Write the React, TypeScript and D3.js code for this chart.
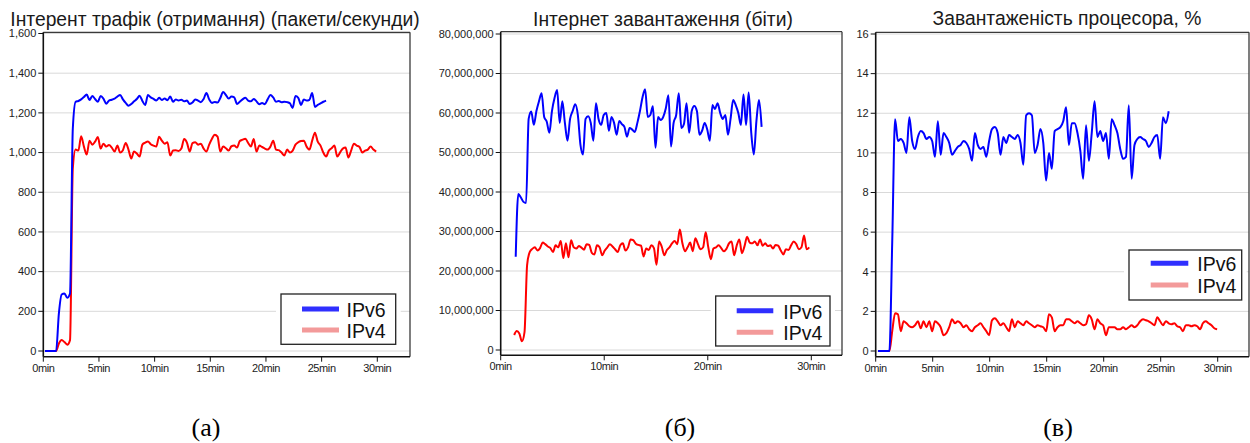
import React from "react";
import * as d3 from "d3";

// ---------- shared labels ----------
const seriesNames = ["IPv6", "IPv4"];
const panelTitles = [
  "Інтерент трафік (отримання) (пакети/секунди)",
  "Інтернет завантаження (біти)",
  "Завантаженість процесора, %",
];
const panelCaptions = ["(а)", "(б)", "(в)"];
const minuteTicksFine = [0, 5, 10, 15, 20, 25, 30];
const minuteTicksCoarse = [0, 10, 20, 30];
const packetTicks = [0, 200, 400, 600, 800, 1000, 1200, 1400, 1600];
const bitTicks = [0, 10e6, 20e6, 30e6, 40e6, 50e6, 60e6, 70e6, 80e6];
const cpuTicks = [0, 2, 4, 6, 8, 10, 12, 14, 16];

// sampling: minutes between samples
const sampleStep = 0.25;

// ---------- panel (a): packets / second ----------
const packetsIpv6Start = 0.15;
const packetsIpv6 = [
  0, 0, 0, 0, 0, 190, 285, 290, 268, 290,
  1120, 1256, 1260, 1268, 1280, 1292, 1265, 1285, 1270, 1256,
  1285, 1272, 1246, 1262, 1266, 1272, 1282, 1290, 1268, 1250,
  1236, 1245, 1258, 1270, 1286, 1260, 1240, 1290, 1278, 1270,
  1262, 1276, 1265, 1272, 1264, 1282, 1256, 1268, 1262, 1266,
  1258, 1262, 1245, 1252, 1268, 1262, 1254, 1270, 1300, 1268,
  1250, 1255, 1252, 1275, 1305, 1290, 1272, 1282, 1278, 1245,
  1256, 1268, 1276, 1262, 1258, 1270, 1258, 1244, 1250, 1244,
  1268, 1290, 1278, 1256, 1260, 1254, 1256, 1254, 1248, 1225,
  1285, 1276, 1240, 1268, 1262, 1266, 1300, 1230, 1240, 1248,
  1256, 1262,
];
const packetsIpv4Start = 0.15;
const packetsIpv4 = [
  0, 0, 0, 0, 0, 38, 55, 45, 32, 55,
  920, 1015, 1010, 1082, 1030, 990, 1060, 1040, 1055, 1078,
  1020, 1045, 1030, 1038, 1025, 1005, 1035, 1000, 1012, 1048,
  1015, 970, 1005, 995, 980, 1040, 1050, 1056, 1042, 1035,
  1030, 1080, 1060, 1045, 1052, 985, 1010, 1012, 1008, 1020,
  1068, 1050, 1005, 1048, 1052, 1040, 1045, 1020, 1005, 1040,
  1070, 1090, 1080, 1005, 1030, 1022, 1010, 1032, 1035, 1025,
  1058, 1065, 1070, 1048, 1030, 1068, 1005, 1035, 1028, 1020,
  1015, 1030, 1060, 1015, 1012, 1000, 985, 1015, 1000, 1010,
  1040, 1052, 1058, 1060, 1030, 1015, 1060, 1100, 1055, 1035,
  1000, 980, 1010, 1022, 1035, 980, 1000, 1020, 1025, 975,
  1010, 1045, 1035, 1028, 1000, 1010, 1015, 1030, 1015, 1005,
];

// ---------- panel (б): bits (millions) ----------
const bitsIpv6Start = 1.45;
const bitsIpv6M = [
  23.6, 39.5, 38.6, 37.5, 37.2, 58.5, 60.4, 57.0, 60.5, 63.0,
  65.0, 59.0, 57.8, 55.0, 60.5, 63.8, 65.8, 57.5, 63.0, 57.5,
  53.0, 58.5, 60.5, 62.2, 59.5, 52.0, 49.5, 58.5, 59.2, 57.5,
  53.0, 62.5, 58.5, 57.0, 59.5, 60.0, 55.5, 59.0, 57.5, 54.5,
  58.0, 57.2, 56.5, 54.0, 56.2, 55.8, 55.2, 57.5, 60.5, 64.0,
  66.0, 59.0, 59.5, 61.7, 51.2, 59.0, 58.2, 59.0, 61.2, 64.5,
  51.5, 57.5, 59.5, 65.0, 56.2, 57.2, 62.5, 55.0, 60.5, 61.8,
  60.5, 54.5, 55.5, 57.5, 55.8, 53.0, 62.0, 61.0, 62.5, 60.0,
  58.5, 59.5, 54.5, 58.5, 63.3, 62.0, 60.0, 57.0, 64.7, 57.0,
  65.2, 55.0, 49.5, 58.0, 63.3, 56.5,
];
const bitsIpv4Start = 1.3;
const bitsIpv4M = [
  3.8, 4.8, 4.2, 2.2, 4.5, 21.5, 24.8, 25.6, 26.0, 25.2,
  25.8, 27.2, 26.8, 26.2, 25.8, 24.8, 26.5, 26.0, 27.6, 23.3,
  27.0, 23.5, 27.8, 26.0, 25.7, 26.3, 25.9, 25.4, 26.8, 26.6,
  24.6, 24.2, 26.5, 26.0, 24.0, 25.2, 26.0, 26.8, 26.2, 25.5,
  24.8, 26.5, 27.0, 25.2, 26.0, 28.0, 27.8, 26.9, 26.6, 26.4,
  23.7, 25.7, 25.3, 26.5, 25.8, 21.6, 27.5, 26.2, 24.0, 25.3,
  26.0, 27.0, 27.6, 26.8, 30.5, 27.0, 25.0, 26.0, 27.2, 25.0,
  28.3, 26.8, 25.5, 26.0, 29.8, 26.0, 23.0, 25.7, 26.0, 26.5,
  25.8, 25.0, 25.6, 27.0, 27.5, 24.0, 26.5, 28.0, 24.5, 26.3,
  28.7, 27.2, 27.0, 27.5, 26.5, 28.0, 26.4, 27.0, 26.3, 26.5,
  25.7, 26.6, 26.4, 25.2, 24.2, 25.5, 25.3, 26.5, 27.5, 26.8,
  25.5, 26.0, 29.0, 25.5, 26.0,
];

// ---------- panel (в): CPU % ----------
const cpuIpv6Start = 0.2;
const cpuIpv6 = [
  0, 0, 0, 0, 0, 5.5, 11.7, 10.6, 10.7, 10.5,
  10.0, 11.8, 10.6, 10.2, 10.8, 11.1, 11.0, 10.7, 10.8, 10.6,
  9.8, 11.6, 9.9, 11.0, 10.8, 10.5, 9.9, 10.1, 10.3, 10.4,
  10.6, 10.5, 10.2, 9.6, 11.0, 10.4, 10.2, 10.3, 9.8, 10.6,
  11.2, 11.3, 11.0, 9.9, 10.8, 10.5, 10.9, 10.8, 10.7, 10.9,
  10.5, 9.4, 11.9, 12.0, 11.9, 10.0, 10.4, 11.2, 10.5, 8.6,
  10.0, 9.2, 11.1, 11.2, 11.3, 11.6, 12.3, 10.4, 11.5, 11.5,
  11.0, 10.1, 8.7, 11.4, 9.6, 11.0, 12.6, 10.8, 11.1, 10.6,
  11.0, 9.7, 11.7, 11.4, 11.0, 10.2, 9.7, 9.8, 12.4, 8.7,
  10.4, 10.7, 10.8, 10.7, 10.6, 10.3, 10.5, 10.8, 10.9, 9.7,
  11.8, 11.5, 12.1,
];
const cpuIpv4Start = 0.2;
const cpuIpv4 = [
  0, 0, 0, 0, 0, 1.0, 1.9, 1.85, 1.0, 1.5,
  1.4, 1.25, 1.2, 1.3, 1.5, 1.15, 1.5, 1.2, 1.5, 1.0,
  1.5, 1.4, 1.2, 0.8, 0.9, 1.2, 1.6, 1.4, 1.5, 1.4,
  1.2, 1.3, 1.1, 1.0, 1.2, 1.3, 1.4, 1.2, 1.0, 0.8,
  1.55, 1.65, 1.5, 1.3, 1.4, 1.2, 1.0, 1.6, 1.2, 1.5,
  1.4, 1.3, 1.5, 1.4, 1.3, 1.2, 1.3, 1.25, 1.2, 1.0,
  1.85, 1.7, 1.0, 1.2, 1.3, 1.3, 1.6, 1.6, 1.5, 1.4,
  1.5, 1.4, 1.3, 1.35, 1.8, 1.6, 1.1, 1.6, 1.4, 1.3,
  0.8, 1.2, 1.2, 1.2, 1.1, 1.1, 1.2, 1.1, 1.2, 1.3,
  1.2, 1.3, 1.5, 1.6, 1.55, 1.5, 1.4, 1.3, 1.7, 1.5,
  1.3, 1.5, 1.4, 1.35, 1.4, 1.25, 1.2, 1.0, 1.3, 1.3,
  1.25, 1.3, 1.25, 1.1, 1.4, 1.5, 1.4, 1.3, 1.15, 1.1,
];

// ---------- styles / layout ----------
const lineColors = ["#0000ff", "#ff0000"];
const legendColors = ["#2f2fff", "#f39a9a"];
const FONT = "'Liberation Sans', Arial, sans-serif";

type Pt = { t: number; v: number };
const toPoints = (start: number, values: number[], scale = 1): Pt[] =>
  values.map((v, i) => ({ t: start + i * sampleStep, v: v * scale }));

type PanelCfg = {
  title: string;
  titleX: number;
  titleY: number;
  left: number;
  right: number;
  top: number;
  axisY: number;
  x30: number;
  y0: number;
  yTop: number;
  yMax: number;
  yTicks: number[];
  xTicks: number[];
  series: Pt[][];
  legend: { x: number; y: number; w: number; h: number; lx1: number; lx2: number; ly: number[]; tx: number };
};

const fmt = d3.format(",");

const panels: PanelCfg[] = [
  {
    title: panelTitles[0],
    titleX: 215,
    titleY: 25.5,
    left: 43.3,
    right: 410,
    top: 32.3,
    axisY: 356.7,
    x30: 377.3,
    y0: 351,
    yTop: 33.5,
    yMax: 1600,
    yTicks: packetTicks,
    xTicks: minuteTicksFine,
    series: [toPoints(packetsIpv6Start, packetsIpv6), toPoints(packetsIpv4Start, packetsIpv4)],
    legend: { x: 281, y: 294, w: 114.7, h: 50.3, lx1: 302, lx2: 339, ly: [309, 330], tx: 346.5 },
  },
  {
    title: panelTitles[1],
    titleX: 663,
    titleY: 26,
    left: 500.7,
    right: 842,
    top: 31.7,
    axisY: 355.3,
    x30: 811.3,
    y0: 350,
    yTop: 34,
    yMax: 80e6,
    yTicks: bitTicks,
    xTicks: minuteTicksCoarse,
    series: [toPoints(bitsIpv6Start, bitsIpv6M, 1e6), toPoints(bitsIpv4Start, bitsIpv4M, 1e6)],
    legend: { x: 715.7, y: 296, w: 114.3, h: 50, lx1: 736.7, lx2: 773.3, ly: [310.7, 332.3], tx: 783.3 },
  },
  {
    title: panelTitles[2],
    titleX: 1067,
    titleY: 24.5,
    left: 875.7,
    right: 1249,
    top: 32.3,
    axisY: 356.7,
    x30: 1217.7,
    y0: 351,
    yTop: 34,
    yMax: 16,
    yTicks: cpuTicks,
    xTicks: minuteTicksFine,
    series: [toPoints(cpuIpv6Start, cpuIpv6), toPoints(cpuIpv4Start, cpuIpv4)],
    legend: { x: 1129, y: 250, w: 112.7, h: 50, lx1: 1150.7, lx2: 1188.3, ly: [263.3, 285], tx: 1197.3 },
  },
];

function Panel({ cfg }: { cfg: PanelCfg }) {
  const x = d3.scaleLinear().domain([0, 30]).range([cfg.left, cfg.x30]);
  const y = d3.scaleLinear().domain([0, cfg.yMax]).range([cfg.y0, cfg.yTop]);
  const line = d3
    .line<Pt>()
    .x((d) => x(d.t))
    .y((d) => y(d.v))
    .curve(d3.curveMonotoneX);
  const lg = cfg.legend;
  // draw IPv4 first, IPv6 on top
  const order = [1, 0];
  return (
    <g>
      <text x={cfg.titleX} y={cfg.titleY} textAnchor="middle" fontFamily={FONT} fontSize={19.3} fill="#1a1a1a">
        {cfg.title}
      </text>
      {/* grid */}
      {cfg.yTicks.map((t) => (
        <line key={"g" + t} x1={cfg.left} x2={cfg.right} y1={y(t)} y2={y(t)} stroke="#d9d9d9" strokeWidth={1} />
      ))}
      {/* frame */}
      <line x1={cfg.left} x2={cfg.right} y1={cfg.top} y2={cfg.top} stroke="#3a3a3a" strokeWidth={1.3} />
      <line x1={cfg.right} x2={cfg.right} y1={cfg.top} y2={cfg.axisY} stroke="#3a3a3a" strokeWidth={1.3} />
      {/* y axis */}
      <line x1={cfg.left} x2={cfg.left} y1={cfg.top} y2={cfg.axisY} stroke="#111" strokeWidth={1.6} />
      {cfg.yTicks.map((t) => (
        <g key={"y" + t}>
          <line x1={cfg.left - 5} x2={cfg.left} y1={y(t)} y2={y(t)} stroke="#111" strokeWidth={1} />
          <text x={cfg.left - 7} y={y(t)} dy="0.35em" textAnchor="end" fontFamily={FONT} fontSize={11} fill="#222">
            {fmt(t)}
          </text>
        </g>
      ))}
      {/* x axis */}
      <line x1={cfg.left} x2={cfg.right} y1={cfg.axisY} y2={cfg.axisY} stroke="#111" strokeWidth={1.6} />
      {cfg.xTicks.map((t) => (
        <g key={"x" + t}>
          <line x1={x(t)} x2={x(t)} y1={cfg.axisY} y2={cfg.axisY + 5} stroke="#111" strokeWidth={1} />
          <text x={x(t)} y={cfg.axisY + 15} textAnchor="middle" fontFamily={FONT} fontSize={11} fill="#222" letterSpacing={-0.4}>
            {t + "min"}
          </text>
        </g>
      ))}
      {/* series */}
      {order.map((si) => (
        <path
          key={"s" + si}
          d={line(cfg.series[si]) || ""}
          fill="none"
          stroke={lineColors[si]}
          strokeWidth={2}
          strokeLinejoin="round"
        />
      ))}
      {/* legend */}
      <rect x={lg.x - 5} y={lg.y - 1} width={lg.w + 10} height={lg.h + 2} fill="#fff" />
      <rect x={lg.x} y={lg.y} width={lg.w} height={lg.h} fill="#fff" stroke="#222" strokeWidth={1.3} />
      {seriesNames.map((n, i) => (
        <g key={"l" + n}>
          <line x1={lg.lx1} x2={lg.lx2} y1={lg.ly[i]} y2={lg.ly[i]} stroke={legendColors[i]} strokeWidth={5} />
          <text x={lg.tx} y={lg.ly[i] + 8} fontFamily={FONT} fontSize={19.5} fill="#111">
            {n}
          </text>
        </g>
      ))}
    </g>
  );
}

const captionX = [206, 680, 1058];

export default function App() {
  return (
    <svg
      width={1250}
      height={443}
      viewBox="0 0 1250 443"
      style={{ position: "absolute", left: 0, top: 0, background: "#fff" }}
    >
      <rect x={0} y={0} width={1250} height={443} fill="#fff" />
      {panels.map((p, i) => (
        <Panel key={i} cfg={p} />
      ))}
      {panelCaptions.map((c, i) => (
        <text key={c} x={captionX[i]} y={436} textAnchor="middle" fontFamily="'Liberation Serif', 'Times New Roman', serif" fontSize={26} fill="#000">
          {c}
        </text>
      ))}
    </svg>
  );
}
